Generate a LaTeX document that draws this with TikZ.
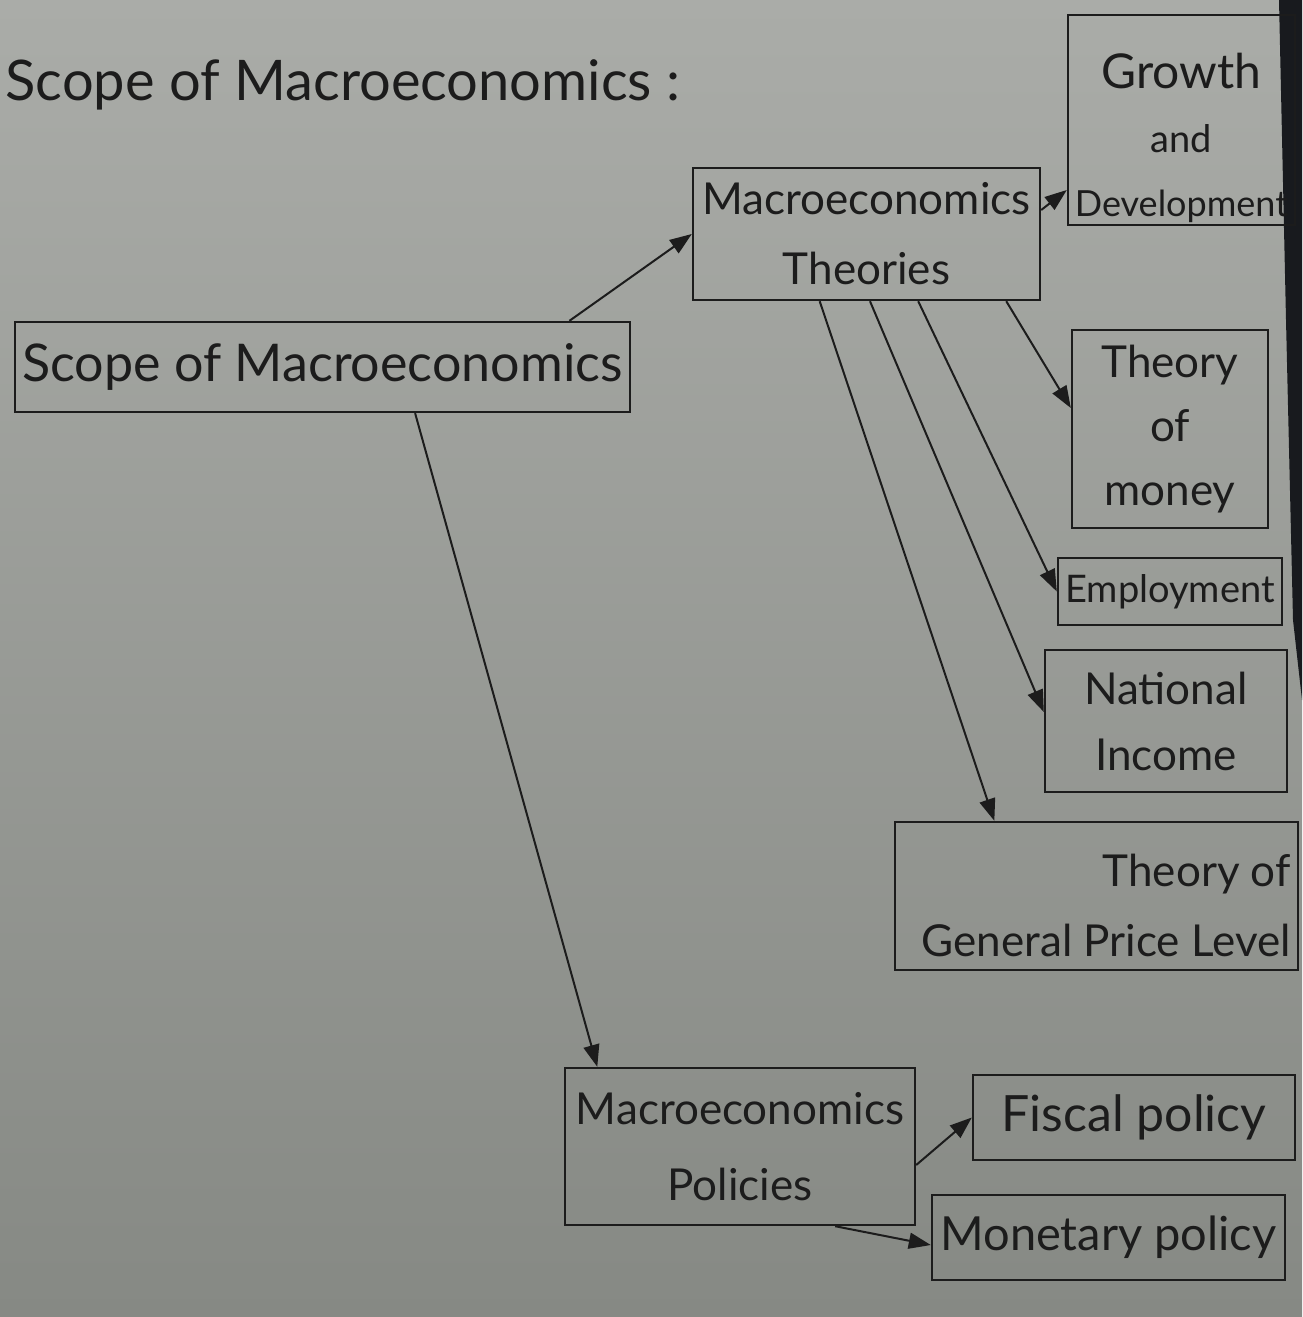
\documentclass[tikz,border=0pt]{standalone}
\usepackage{fontspec}
\setmainfont{Lato}
\usetikzlibrary{arrows.meta,calc}
\definecolor{papertop}{RGB}{170,172,168}
\definecolor{paperbot}{RGB}{134,137,132}
\definecolor{darkedge}{RGB}{24,26,30}
\definecolor{ink}{RGB}{28,28,28}
\tikzset{
  box/.style={draw=ink, line width=2.4pt, inner sep=0pt, text=ink, align=center},
  label/.style={inner sep=0pt, text=ink, align=center},
  conn/.style={draw=ink, line width=2pt, -{Triangle[length=22pt,width=16pt]}},
}
\begin{document}
\begin{tikzpicture}[x=1pt,y=-1pt]
\useasboundingbox (0,0) rectangle (1302,1317);
\shade[top color=papertop, bottom color=paperbot] (0,0) rectangle (1302,1317);
\fill[darkedge] (1279,0) -- (1302,0) -- (1302,700) -- (1293,620) -- (1286,320) -- cycle;

\node[anchor=base west, text=ink, font={\fontsize{56}{66}\selectfont}] (title) at (2,100) {Scope of Macroeconomics :};

\node[box, minimum width=615pt, minimum height=90pt, font={\fontsize{52}{62}\selectfont}] (scope) at (322.5,367) {Scope of Macroeconomics};
\node[box, minimum width=347pt, minimum height=132pt, font={\fontsize{44}{70}\selectfont}] (theo) at (866.5,234) {Macroeconomics\\Theories};
\node[box, minimum width=227pt, minimum height=210pt] (growth) at (1181.5,120) {};
\node[label, font={\fontsize{38}{64}\selectfont}] (growthtext) at (1181.5,138) {{\fontsize{48}{64}\selectfont Growth}\\and\\{\fontsize{36}{64}\selectfont Development}};
\node[box, minimum width=196pt, minimum height=198pt, font={\fontsize{44}{64}\selectfont}] (money) at (1170,429) {Theory\\of\\money};
\node[box, minimum width=224pt, minimum height=67pt, font={\fontsize{38}{46}\selectfont}] (employ) at (1170,591.5) {Employment};
\node[box, minimum width=242pt, minimum height=142pt, font={\fontsize{44}{66}\selectfont}] (natinc) at (1166,721) {National\\Income};
\node[box, minimum width=403pt, minimum height=148pt] (price) at (1096.5,896) {};
\node[label, align=right, font={\fontsize{44}{70}\selectfont}, anchor=east] (pricetext) at (1291,905) {Theory of\\General Price Level};
\node[box, minimum width=350pt, minimum height=157pt, font={\fontsize{44}{76}\selectfont}] (pol) at (740,1146.5) {Macroeconomics\\Policies};
\node[box, minimum width=322pt, minimum height=85pt, font={\fontsize{50}{60}\selectfont}] (fiscal) at (1134,1117.5) {Fiscal policy};
\node[box, minimum width=353pt, minimum height=85pt, font={\fontsize{47}{56}\selectfont}] (monet) at (1108.5,1237.5) {Monetary policy};

\draw[conn] ($(scope.north west)!0.9!(scope.north east)$) -- (theo.west);
\draw[conn] ($(scope.south west)!0.65!(scope.south east)$) -- ($(pol.north west)!0.095!(pol.north east)$);
\draw[conn] ([yshift=24pt]theo.east) -- ([yshift=-70pt]growth.west);
\draw[conn] ($(theo.south west)!0.9!(theo.south east)$) -- ([yshift=21pt]money.west);
\draw[conn] ($(theo.south west)!0.648!(theo.south east)$) -- (employ.west);
\draw[conn] ($(theo.south west)!0.51!(theo.south east)$) -- ([yshift=9pt]natinc.west);
\draw[conn] ($(theo.south west)!0.366!(theo.south east)$) -- ($(price.north west)!0.248!(price.north east)$);
\draw[conn] ([yshift=-18.5pt]pol.east) -- (fiscal.west);
\draw[conn] ($(pol.south west)!0.77!(pol.south east)$) -- ([yshift=-7.5pt]monet.west);
\end{tikzpicture}
\end{document}
